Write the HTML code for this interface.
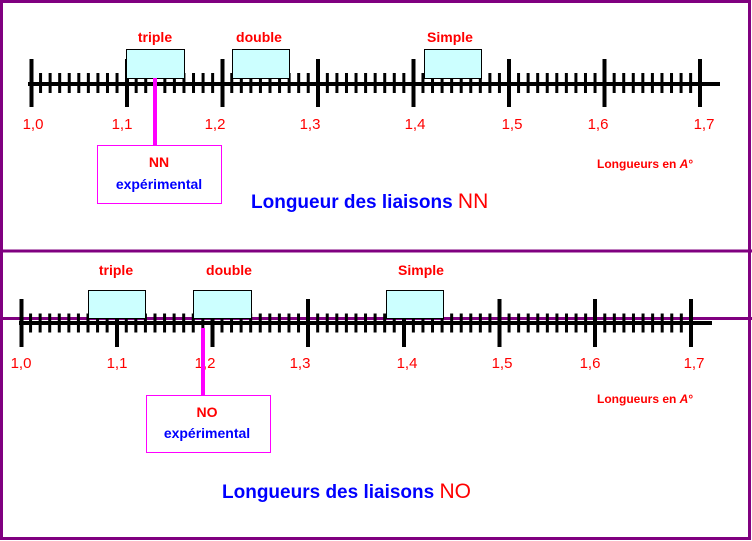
<!DOCTYPE html>
<html><head><meta charset="utf-8"><style>
html,body{margin:0;padding:0;background:#fff;}
svg{display:block;}
text{font-family:"Liberation Sans",Arial,sans-serif;font-weight:bold;}
</style></head><body>
<svg width="752" height="541" viewBox="0 0 752 541" xmlns="http://www.w3.org/2000/svg">
<rect x="1.5" y="1.5" width="748" height="537" fill="#fff" stroke="#800080" stroke-width="3"/>
<rect x="0" y="249.5" width="752" height="3" fill="#800080"/>

<!-- TOP PANEL -->
<rect x="28" y="82" width="692" height="4" fill="#000"/>
<line x1="29.5" y1="83" x2="706" y2="83" stroke="#000" stroke-width="20" stroke-dasharray="3 6.56"/>
<g fill="#000">
<rect x="29.5" y="59" width="4" height="48"/><rect x="125" y="59" width="4" height="48"/>
<rect x="220.5" y="59" width="4" height="48"/><rect x="316" y="59" width="4" height="48"/>
<rect x="411.5" y="59" width="4" height="48"/><rect x="507" y="59" width="4" height="48"/>
<rect x="602.5" y="59" width="4" height="48"/><rect x="698" y="59" width="4" height="48"/>
</g>
<g fill="#ccffff" stroke="#000" stroke-width="1">
<rect x="126.5" y="49.5" width="58" height="29"/>
<rect x="232.5" y="49.5" width="57" height="29"/>
<rect x="424.5" y="49.5" width="57" height="29"/>
</g>
<g fill="#f00" font-size="14" text-anchor="middle">
<text x="155" y="42">triple</text><text x="259" y="42">double</text><text x="450" y="42">Simple</text>
</g>
<g fill="#f00" font-size="15" font-weight="normal" text-anchor="middle">
<text x="33" y="129" style="font-weight:normal">1,0</text><text x="122" y="129" style="font-weight:normal">1,1</text>
<text x="215" y="129" style="font-weight:normal">1,2</text><text x="310" y="129" style="font-weight:normal">1,3</text>
<text x="415" y="129" style="font-weight:normal">1,4</text><text x="512" y="129" style="font-weight:normal">1,5</text>
<text x="598" y="129" style="font-weight:normal">1,6</text><text x="704" y="129" style="font-weight:normal">1,7</text>
</g>
<rect x="153" y="78" width="4" height="67" fill="#ff00ff"/>
<rect x="97.5" y="145.5" width="124" height="58" fill="#fff" stroke="#ff00ff" stroke-width="1"/>
<text x="159" y="167" fill="#f00" font-size="14" text-anchor="middle">NN</text>
<text x="159" y="189" fill="#00f" font-size="14" text-anchor="middle">expérimental</text>
<text x="597" y="168" fill="#f00" font-size="12">Longueurs en <tspan font-style="italic">A</tspan>°</text>
<text x="251" y="208" fill="#00f" font-size="19">Longueur des liaisons <tspan fill="#f00" font-weight="normal" font-size="21">NN</tspan></text>

<!-- BOTTOM PANEL -->
<rect x="0" y="317" width="752" height="3" fill="#800080"/>
<rect x="19" y="321" width="693" height="4" fill="#000"/>
<line x1="19.5" y1="323" x2="695" y2="323" stroke="#000" stroke-width="19" stroke-dasharray="3 6.57"/>
<g fill="#000">
<rect x="19.5" y="299" width="4" height="48"/><rect x="115" y="299" width="4" height="48"/>
<rect x="210.5" y="299" width="4" height="48"/><rect x="306" y="299" width="4" height="48"/>
<rect x="402" y="299" width="4" height="48"/><rect x="497.5" y="299" width="4" height="48"/>
<rect x="593" y="299" width="4" height="48"/><rect x="689" y="299" width="4" height="48"/>
</g>
<g fill="#ccffff" stroke="#000" stroke-width="1">
<rect x="88.5" y="290.5" width="57" height="28"/>
<rect x="193.5" y="290.5" width="58" height="28"/>
<rect x="386.5" y="290.5" width="57" height="28"/>
</g>
<g fill="#f00" font-size="14" text-anchor="middle">
<text x="116" y="275">triple</text><text x="229" y="275">double</text><text x="421" y="275">Simple</text>
</g>
<g fill="#f00" font-size="15" text-anchor="middle">
<text x="21" y="368" style="font-weight:normal">1,0</text><text x="117" y="368" style="font-weight:normal">1,1</text>
<text x="205" y="368" style="font-weight:normal">1,2</text><text x="300" y="368" style="font-weight:normal">1,3</text>
<text x="407" y="368" style="font-weight:normal">1,4</text><text x="502" y="368" style="font-weight:normal">1,5</text>
<text x="590" y="368" style="font-weight:normal">1,6</text><text x="694" y="368" style="font-weight:normal">1,7</text>
</g>
<rect x="201" y="328" width="4" height="67" fill="#ff00ff"/>
<rect x="146.5" y="395.5" width="124" height="57" fill="#fff" stroke="#ff00ff" stroke-width="1"/>
<text x="207" y="417" fill="#f00" font-size="14" text-anchor="middle">NO</text>
<text x="207" y="438" fill="#00f" font-size="14" text-anchor="middle">expérimental</text>
<text x="597" y="403" fill="#f00" font-size="12">Longueurs en <tspan font-style="italic">A</tspan>°</text>
<text x="222" y="498" fill="#00f" font-size="19">Longueurs des liaisons <tspan fill="#f00" font-weight="normal" font-size="21">NO</tspan></text>
</svg>
</body></html>
